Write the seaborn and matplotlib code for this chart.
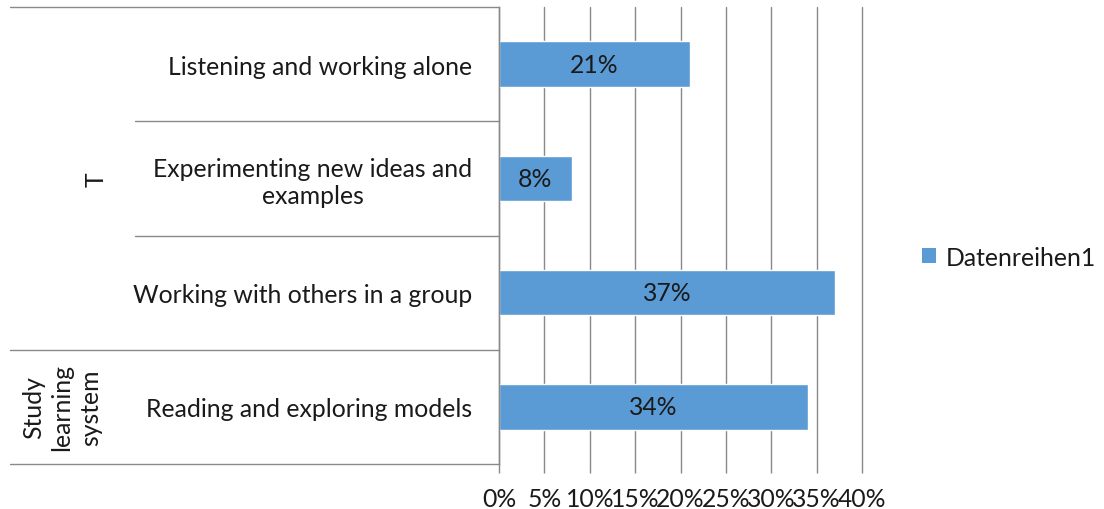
import matplotlib
matplotlib.use("Agg")
import matplotlib.pyplot as plt
import matplotlib.transforms as mtransforms
from matplotlib.patches import Patch
import pandas as pd
import seaborn as sns

# Data
categories = [
    "Listening and working alone",
    "Experimenting new ideas and examples",
    "Working with others in a group",
    "Reading and exploring models",
]
tick_labels = [
    "Listening and working alone",
    "Experimenting new ideas and\nexamples",
    "Working with others in a group",
    "Reading and exploring models",
]
values = [21, 8, 37, 34]
groups = ["T", "Study\nlearning\nsystem"]
group_spans = [(0, 2), (3, 3)]
series_name = "Datenreihen1"
x_ticks = [0, 5, 10, 15, 20, 25, 30, 35, 40]

BAR = "#5B9BD5"
GRID = "#898989"
TXT = "#1a1a1a"
FONT = "Lato"
FS = 17.8

sns.set_theme(style="white")
plt.rcParams["font.family"] = [FONT, "DejaVu Sans"]

df = pd.DataFrame({"category": categories, "value": values})

W, H, DPI = 1104, 510, 100
fig = plt.figure(figsize=(W / DPI, H / DPI), dpi=DPI)
x0, x1, ytop, ybot = 499, 862, 8, 465
ax = fig.add_axes([x0 / W, 1 - ybot / H, (x1 - x0) / W, (ybot - ytop) / H])

sns.barplot(data=df, y="category", x="value", orient="h", color=BAR,
            saturation=1, width=0.4, ax=ax)
ax.set_xlim(x_ticks[0], x_ticks[-1])
ax.set_ylim(len(categories) - 0.5, -0.5)
ax.set_xlabel("")
ax.set_ylabel("")

# value labels in the middle of each bar
ax.bar_label(ax.containers[0], labels=[f"{v}%" for v in values],
             label_type="center", fontsize=FS, color=TXT)

# x axis: gridlines and percent ticks
ax.set_xticks(x_ticks)
ax.set_xticklabels([f"{t}%" for t in x_ticks], fontsize=FS, color=TXT)
ax.grid(axis="x", color=GRID, linewidth=1)
for gl in ax.get_xgridlines():
    gl.set_clip_on(False)
ax.set_axisbelow(True)
ax.tick_params(axis="x", which="major", bottom=True, length=6.5, width=1,
               color=GRID, pad=10, direction="out")

# category labels on the left
ax.set_yticks(range(len(categories)))
ax.set_yticklabels(tick_labels, fontsize=FS, color=TXT)
for lab in ax.get_yticklabels():
    lab.set_multialignment("center")
ax.tick_params(axis="y", left=False, length=0, pad=19)

for side in ("top", "right", "bottom"):
    ax.spines[side].set_visible(False)
ax.spines["left"].set_color(GRID)
ax.spines["left"].set_linewidth(1)

# separators of the multi-level category axis
span = x1 - x0
trans = mtransforms.blended_transform_factory(ax.transAxes, ax.transData)
outer_left = (10 - x0) / span
inner_left = (135 - x0) / span
group_edges = {-0.5} | {e + 0.5 for _, e in group_spans}
for b in [i - 0.5 for i in range(len(categories) + 1)]:
    left = outer_left if b in group_edges else inner_left
    ax.plot([left, 0], [b, b], color=GRID, linewidth=1, transform=trans,
            clip_on=False)

group_x = [(96 - x0) / span, (62 - x0) / span]
for name, (s, e), gx in zip(groups, group_spans, group_x):
    ax.text(gx, (s + e) / 2, name, transform=trans, rotation=90,
            ha="center", va="center", multialignment="center",
            fontsize=FS, color=TXT, linespacing=1.28)

# legend
handle = Patch(facecolor=BAR, edgecolor="none")
fig.legend([handle], [series_name], loc="center left",
           bbox_to_anchor=(922 / W, 1 - 258 / H), frameon=False,
           borderpad=0, borderaxespad=0,
           fontsize=FS, handlelength=0.55, handleheight=0.55,
           handletextpad=0.4, labelcolor=TXT)

fig.savefig("out.png", dpi=DPI)
